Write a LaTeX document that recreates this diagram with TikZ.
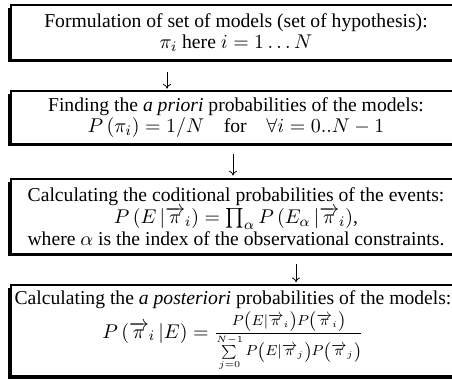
\documentclass[tikz,border=0pt]{standalone}
\usepackage{amsmath,amssymb}
\usepackage{fontspec}
\setmainfont{Liberation Serif}
\usetikzlibrary{calc,arrows.meta,shadows}
\tikzset{
    stagebox/.style={draw, line width=1.1pt, fill=white, align=center, inner sep=1pt,
        minimum width=247.5pt, font=\fontsize{10.8}{12}\selectfont,
        general shadow={fill=black, shadow xshift=-1.5pt, shadow yshift=-1.4pt}},
    stepdown/.style={-{Computer Modern Rightarrow[length=2.6pt,width=4.4pt]}, line width=0.45pt}
}

\begin{document}
\begin{tikzpicture}[x=0.55pt,y=-0.55pt]
    \useasboundingbox (0,0) rectangle (452,380);
    \clip (0,0) rectangle (452,380);

    % stages
    \node[stagebox, minimum height=30pt] (models) at (236,32.5)
        {Formulation of set of models (set of hypothesis):\\
         $\pi_i$ here $i=1\ldots N$};
    \node[stagebox, minimum height=29pt] (prior) at (236,117.5)
        {Finding the \textit{a priori} probabilities of the models:\\
         $P\left(\pi_i\right)=1/N$\quad for\quad $\forall i=0..N-1$};
    \node[stagebox, minimum height=41pt] (cond) at (236,216.5)
        {Calculating the coditional probabilities of the events:\\
         $P\left(E\,|\overrightarrow{\pi}_i\right)=\prod_\alpha P\left(E_\alpha\,|\overrightarrow{\pi}_i\right)$,\\
         where $\alpha$ is the index of the observational constraints.};
    \node[stagebox, minimum height=50pt, minimum width=244.75pt] (post) at (233,330.5)
        {Calculating the \textit{a posteriori} probabilities of the models:\\[1pt]
         $P\left(\overrightarrow{\pi}_i\,|E\right)=\frac{P\left(E|\overrightarrow{\pi}_i\right)P\left(\overrightarrow{\pi}_i\right)}{\sum\limits_{j=0}^{N-1}P\left(E|\overrightarrow{\pi}_j\right)P\left(\overrightarrow{\pi}_j\right)}$};

    % arrows between stages
    \draw[stepdown, shorten <=6pt, shorten >=0.8pt] (models.south -| 167,0) -- (prior.north -| 167,0);
    \draw[stepdown, shorten <=5pt, shorten >=1.5pt] (prior.south -| 233,0) -- (cond.north -| 233,0);
    \draw[stepdown, shorten <=5pt, shorten >=1pt] (cond.south -| 296,0) -- (post.north -| 296,0);
\end{tikzpicture}
\end{document}
